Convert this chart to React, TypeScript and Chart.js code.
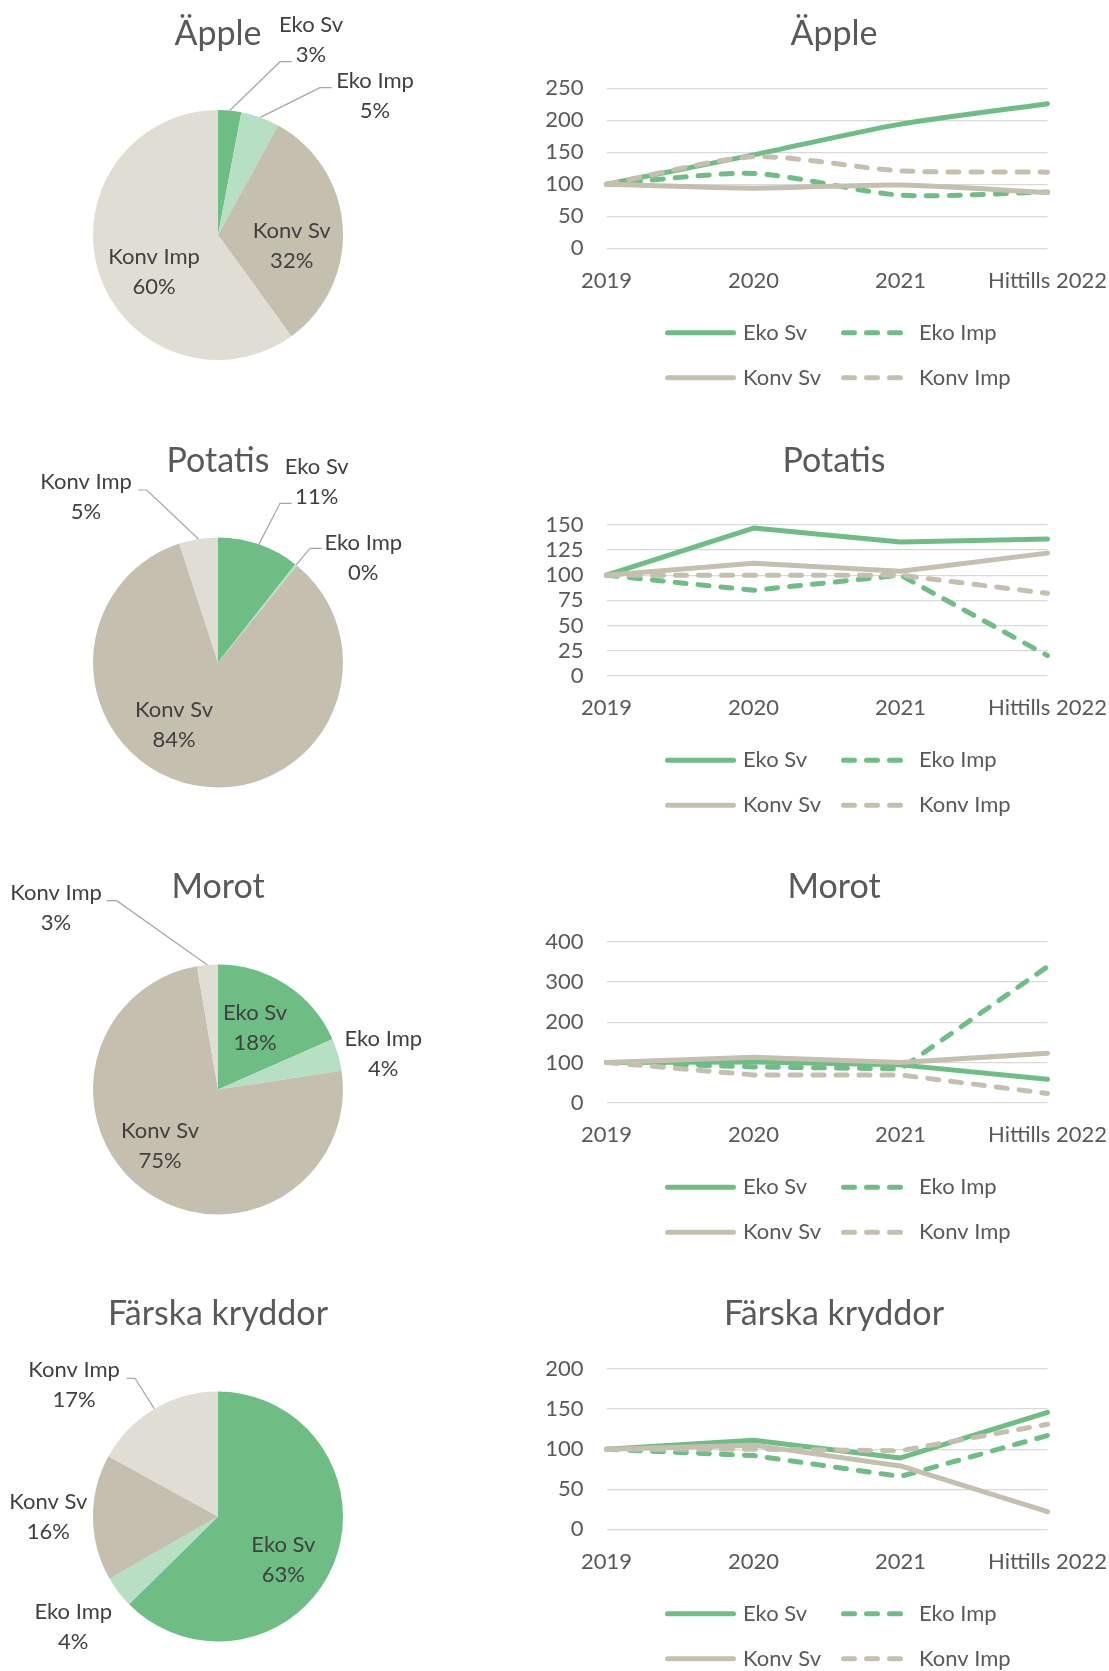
import React, { useEffect, useRef } from "react";
import { Chart, registerables } from "chart.js";

Chart.register(...registerables);

// ---------- data ----------
const CATEGORIES = ["Eko Sv", "Eko Imp", "Konv Sv", "Konv Imp"];
const YEARS = ["2019", "2020", "2021", "Hittills 2022"];
const TITLES = ["Äpple", "Potatis", "Morot", "Färska kryddor"];

const SHARE_APPLE = [3, 5, 32, 60];
const SHARE_POTATIS = [10.6, 0.3, 84.1, 5.0];
const SHARE_MOROT = [18.4, 4.2, 74.7, 2.7];
const SHARE_KRYDDOR = [62.6, 4.1, 16.3, 17.0];

const APPLE_EKO_SV = [100, 146, 194, 226];
const APPLE_EKO_IMP = [100, 117, 83, 88];
const APPLE_KONV_SV = [100, 94, 99, 87];
const APPLE_KONV_IMP = [100, 143, 121, 119];

const POTATIS_EKO_SV = [100, 147, 133, 136];
const POTATIS_EKO_IMP = [100, 85, 100, 20];
const POTATIS_KONV_SV = [100, 112, 104, 122];
const POTATIS_KONV_IMP = [100, 100, 100, 82];

const MOROT_EKO_SV = [100, 101, 94, 58];
const MOROT_EKO_IMP = [100, 89, 84, 338];
const MOROT_KONV_SV = [100, 113, 100, 123];
const MOROT_KONV_IMP = [100, 69, 69, 23];

const KRYDDOR_EKO_SV = [100, 111, 89, 146];
const KRYDDOR_EKO_IMP = [100, 92, 66, 117];
const KRYDDOR_KONV_SV = [100, 105, 79, 22];
const KRYDDOR_KONV_IMP = [100, 100, 98, 131];

const Y_MAX = [250, 150, 400, 200];
const Y_STEP = [50, 25, 100, 50];

const SHARES = [SHARE_APPLE, SHARE_POTATIS, SHARE_MOROT, SHARE_KRYDDOR];
const SERIES = [
  [APPLE_EKO_SV, APPLE_EKO_IMP, APPLE_KONV_SV, APPLE_KONV_IMP],
  [POTATIS_EKO_SV, POTATIS_EKO_IMP, POTATIS_KONV_SV, POTATIS_KONV_IMP],
  [MOROT_EKO_SV, MOROT_EKO_IMP, MOROT_KONV_SV, MOROT_KONV_IMP],
  [KRYDDOR_EKO_SV, KRYDDOR_EKO_IMP, KRYDDOR_KONV_SV, KRYDDOR_KONV_IMP],
];

// ---------- styles / layout ----------
const PAGE_W = 1109;
const PAGE_H = 1671;
const FONT = "Lato, 'Open Sans', sans-serif";
const TEXT = "#595959";
const LABEL_TEXT = "#404040";
const GREEN = "#6dbd84";
const BEIGE = "#c4bfaf";
const PIE_COLORS = ["#6dbd84", "#b7dfc4", "#c4bfaf", "#e0ddd5"];
const LINE_COLORS = [GREEN, GREEN, BEIGE, BEIGE];
const DASHED = [false, true, false, true];
const TENSION = [0.25, 0, 0, 0];

const ROW_TOP = [0, 430, 860, 1290];
const TITLE_BASE = [45, 41.7, 38.3, 35];
const PIE_CY = [235, 232.5, 229.5, 226.5];
const PIE_CX = 218;
const PIE_R = 125;
const PIE_W = 540;
const LINE_LEFT = 540;
const LINE_CANVAS_W = 620;
const AREA_TOP = [88.3, 95, 81.7, 79];
const AREA_BOTTOM = [248.3, 245.7, 242.7, 239.3];
const AREA_LEFT = 66.5;
const AREA_RIGHT = 507.5;
const XAXIS_H = 50;
const TITLE_SIZE = 34;
const SMALL_SIZE = 22;

type LabelSpec = { dx: number; dy: number; leader?: [number, number, number, number] };
const PIE_LABELS: LabelSpec[][] = [
  [
    { dx: 93, dy: -195, leader: [73.7, -173.3, 62, -173.3] },
    { dx: 157, dy: -139, leader: [113.7, -147.3, 102, -147.3] },
    { dx: 73.7, dy: 11 },
    { dx: -64, dy: 36.7 },
  ],
  [
    { dx: 98.7, dy: -180.8, leader: [73.7, -159.2, 62, -159.2] },
    { dx: 145.3, dy: -104.2, leader: [103.7, -114.2, 92, -114.2] },
    { dx: -44, dy: 62.5 },
    { dx: -132, dy: -165.8, leader: [-79.7, -172.5, -71.3, -172.5] },
  ],
  [
    { dx: 37, dy: -61.8 },
    { dx: 165.3, dy: -35.8 },
    { dx: -58, dy: 56.2 },
    { dx: -162, dy: -181.2, leader: [-111.3, -188.8, -101.3, -188.8] },
  ],
  [
    { dx: 65.3, dy: 43.5 },
    { dx: -144.7, dy: 110.2 },
    { dx: -169.7, dy: 0.2 },
    { dx: -144, dy: -131.5, leader: [-91.3, -138.2, -83, -138.2] },
  ],
];

function rowHeight(i: number) {
  return Math.min(430, PAGE_H - ROW_TOP[i]);
}

function makePie(i: number) {
  const H = rowHeight(i);
  const cy = PIE_CY[i];
  const values = SHARES[i];
  const total = values.reduce((a, b) => a + b, 0);
  const labelPlugin = {
    id: "pieLabels" + i,
    afterDraw(chart: any) {
      const ctx = chart.ctx;
      const meta = chart.getDatasetMeta(0);
      ctx.save();
      ctx.fillStyle = TEXT;
      ctx.font = `${TITLE_SIZE}px ${FONT}`;
      ctx.textAlign = "center";
      ctx.textBaseline = "alphabetic";
      ctx.fillText(TITLES[i], PIE_CX, TITLE_BASE[i]);
      meta.data.forEach((arc: any, k: number) => {
        const spec = PIE_LABELS[i][k];
        const { x, y, startAngle, endAngle, outerRadius } = arc.getProps(
          ["x", "y", "startAngle", "endAngle", "outerRadius"],
          true
        );
        if (spec.leader) {
          const mid = (startAngle + endAngle) / 2;
          ctx.strokeStyle = "#a6a6a6";
          ctx.lineWidth = 1.2;
          ctx.beginPath();
          ctx.moveTo(x + spec.leader[0], y + spec.leader[1]);
          ctx.lineTo(x + spec.leader[2], y + spec.leader[3]);
          ctx.lineTo(x + Math.cos(mid) * outerRadius, y + Math.sin(mid) * outerRadius);
          ctx.stroke();
        }
        const pct = Math.round((values[k] / total) * 100) + "%";
        ctx.fillStyle = LABEL_TEXT;
        ctx.font = `${SMALL_SIZE}px ${FONT}`;
        ctx.textAlign = "center";
        ctx.textBaseline = "middle";
        ctx.fillText(CATEGORIES[k], x + spec.dx, y + spec.dy - 15);
        ctx.fillText(pct, x + spec.dx, y + spec.dy + 15);
      });
      ctx.restore();
    },
  };
  return {
    type: "pie",
    data: {
      labels: CATEGORIES,
      datasets: [{ data: values, backgroundColor: PIE_COLORS, borderWidth: 0 }],
    },
    options: {
      animation: false,
      responsive: false,
      events: [],
      layout: {
        padding: {
          left: PIE_CX - PIE_R,
          right: PIE_W - PIE_CX - PIE_R,
          top: cy - PIE_R,
          bottom: H - cy - PIE_R,
        },
      },
      plugins: { legend: { display: false }, tooltip: { enabled: false }, title: { display: false } },
    },
    plugins: [labelPlugin],
  };
}

function makeLine(i: number) {
  const H = rowHeight(i);
  const decor = {
    id: "lineDecor" + i,
    afterDraw(chart: any) {
      const ctx = chart.ctx;
      ctx.save();
      ctx.fillStyle = TEXT;
      ctx.font = `${TITLE_SIZE}px ${FONT}`;
      ctx.textAlign = "center";
      ctx.textBaseline = "alphabetic";
      ctx.fillText(TITLES[i], 294, TITLE_BASE[i]);
      // legend
      const bottom = chart.chartArea.bottom;
      const cols = [127.5, 303.5];
      const rows = [bottom + 84.5, bottom + 129.5];
      chart.data.datasets.forEach((ds: any, k: number) => {
        const x0 = cols[k % 2];
        const yy = rows[Math.floor(k / 2)];
        ctx.strokeStyle = ds.borderColor;
        ctx.lineWidth = ds.borderWidth;
        ctx.lineCap = "round";
        ctx.setLineDash(ds.borderDash || []);
        ctx.beginPath();
        ctx.moveTo(x0, yy);
        ctx.lineTo(x0 + 66, yy);
        ctx.stroke();
        ctx.setLineDash([]);
        ctx.fillStyle = TEXT;
        ctx.font = `${SMALL_SIZE}px ${FONT}`;
        ctx.textAlign = "left";
        ctx.textBaseline = "middle";
        ctx.fillText(ds.label, x0 + 66 + 9.5, yy);
      });
      ctx.restore();
    },
  };
  return {
    type: "line",
    data: {
      labels: YEARS,
      datasets: SERIES[i].map((d, k) => ({
        label: CATEGORIES[k],
        data: d,
        borderColor: LINE_COLORS[k],
        backgroundColor: LINE_COLORS[k],
        borderWidth: 5,
        borderDash: DASHED[k] ? [11, 12] : [],
        borderCapStyle: "round",
        borderJoinStyle: "round",
        pointRadius: 0,
        tension: TENSION[i],
        fill: false,
        order: 4 - k,
      })),
    },
    options: {
      animation: false,
      responsive: false,
      events: [],
      layout: {
        padding: {
          left: 0,
          right: LINE_CANVAS_W - AREA_RIGHT,
          top: AREA_TOP[i],
          bottom: H - AREA_BOTTOM[i] - XAXIS_H,
        },
      },
      scales: {
        x: {
          grid: { display: false },
          border: { display: false },
          ticks: {
            font: { family: FONT, size: SMALL_SIZE },
            color: TEXT,
            padding: 11,
            maxRotation: 0,
            minRotation: 0,
            autoSkip: false,
          },
          afterFit: (s: any) => {
            s.height = XAXIS_H;
          },
        },
        y: {
          min: 0,
          max: Y_MAX[i],
          ticks: {
            stepSize: Y_STEP[i],
            autoSkip: false,
            font: { family: FONT, size: SMALL_SIZE },
            color: TEXT,
            padding: 23,
          },
          grid: { color: "#d9d9d9", lineWidth: 1.3, drawTicks: false },
          border: { display: false },
          afterFit: (s: any) => {
            s.width = AREA_LEFT;
          },
        },
      },
      plugins: { legend: { display: false }, tooltip: { enabled: false }, title: { display: false } },
    },
    plugins: [decor],
  };
}

function ChartCanvas(props: { make: () => any; left: number; top: number; width: number; height: number }) {
  const ref = useRef<HTMLCanvasElement | null>(null);
  useEffect(() => {
    const chart = new Chart(ref.current as HTMLCanvasElement, props.make());
    return () => chart.destroy();
  }, []);
  return (
    <canvas
      ref={ref}
      width={props.width}
      height={props.height}
      style={{ position: "absolute", left: props.left, top: props.top, width: props.width, height: props.height }}
    />
  );
}

export default function App() {
  return (
    <div
      style={{
        position: "absolute",
        left: 0,
        top: 0,
        width: PAGE_W,
        height: PAGE_H,
        background: "#ffffff",
        overflow: "hidden",
      }}
    >
      {TITLES.map((t, i) => (
        <React.Fragment key={t}>
          <ChartCanvas make={() => makePie(i)} left={0} top={ROW_TOP[i]} width={PIE_W} height={rowHeight(i)} />
          <ChartCanvas
            make={() => makeLine(i)}
            left={LINE_LEFT}
            top={ROW_TOP[i]}
            width={LINE_CANVAS_W}
            height={rowHeight(i)}
          />
        </React.Fragment>
      ))}
    </div>
  );
}
